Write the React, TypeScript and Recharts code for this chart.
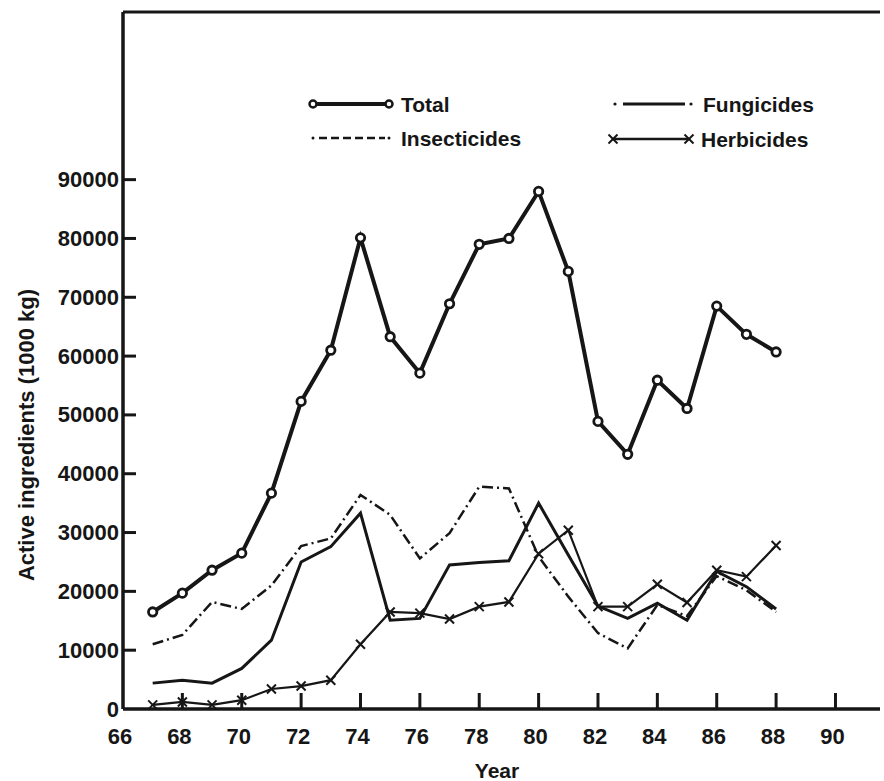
import { LineChart, Line, XAxis, YAxis, ReferenceLine } from "recharts"

const years = [67, 68, 69, 70, 71, 72, 73, 74, 75, 76, 77, 78, 79, 80, 81, 82, 83, 84, 85, 86, 87, 88]
const total = [16500, 19700, 23600, 26500, 36700, 52300, 61000, 80100, 63300, 57100, 68900, 79000, 80000, 88000, 74400, 48900, 43300, 55900, 51100, 68500, 63700, 60700]
const insecticides = [11000, 12600, 18200, 17000, 21000, 27700, 29000, 36400, 33000, 25600, 29900, 37800, 37500, 25900, 19100, 12900, 10300, 17700, 15800, 22600, 20200, 16500]
const fungicides = [4400, 4900, 4400, 6900, 11700, 25000, 27600, 33300, 15100, 15400, 24500, 24900, 25200, 35000, 26200, 17500, 15400, 18000, 15100, 23400, 20800, 17000]
const herbicides = [700, 1200, 700, 1500, 3400, 3900, 4900, 11000, 16500, 16300, 15300, 17400, 18200, 26400, 30400, 17400, 17400, 21200, 18100, 23600, 22500, 27800]

const xTicks = [66, 68, 70, 72, 74, 76, 78, 80, 82, 84, 86, 88, 90]
const yTicks = [0, 10000, 20000, 30000, 40000, 50000, 60000, 70000, 80000, 90000]

const data = years.map((year, i) => ({
  year,
  total: total[i],
  insecticides: insecticides[i],
  fungicides: fungicides[i],
  herbicides: herbicides[i],
}))

const INK = "#161616"
const FONT = "'Liberation Sans', Arial, sans-serif"

const CircleDot = (props: any) => {
  const { cx, cy } = props
  if (cx == null || cy == null) return null
  return <circle cx={cx} cy={cy} r={4.2} fill="#fff" stroke={INK} strokeWidth={2.8} />
}

const CrossDot = (props: any) => {
  const { cx, cy } = props
  if (cx == null || cy == null) return null
  const s = 4.5
  return (
    <g stroke={INK} strokeWidth={2}>
      <line x1={cx - s} y1={cy - s} x2={cx + s} y2={cy + s} />
      <line x1={cx - s} y1={cy + s} x2={cx + s} y2={cy - s} />
    </g>
  )
}

const XTick = (props: any) => {
  const { x, y, payload } = props
  return (
    <g>
      {payload.value !== 66 && <line x1={x} y1={y} x2={x} y2={y - 16} stroke={INK} strokeWidth={3} />}
      <text x={x - 3} y={y + 27} textAnchor="middle" dominantBaseline="central" fontFamily={FONT} fontWeight="bold" fontSize={22} fill={INK}>
        {payload.value}
      </text>
    </g>
  )
}

const YTick = (props: any) => {
  const { x, y, payload } = props
  return (
    <g>
      {payload.value !== 0 && <line x1={x} y1={y} x2={x + 13} y2={y} stroke={INK} strokeWidth={3} />}
      <text x={x - 4} y={y} textAnchor="end" dominantBaseline="central" fontFamily={FONT} fontWeight="bold" fontSize={22} fill={INK}>
        {payload.value}
      </text>
    </g>
  )
}

// legend entries: [label, line x, row y]
const legendItems = [
  { label: "Total", x: 313, y: 104, kind: "total" },
  { label: "Insecticides", x: 313, y: 138, kind: "insecticides" },
  { label: "Fungicides", x: 615, y: 104, kind: "fungicides" },
  { label: "Herbicides", x: 613, y: 139, kind: "herbicides" },
]

function LegendOverlay() {
  return (
    <svg width={884} height={781} style={{ position: "absolute", left: 0, top: 0, pointerEvents: "none" }}>
      {legendItems.map((it) => {
        const x2 = it.x + 76
        return (
          <g key={it.label}>
            {it.kind === "total" && (
              <g>
                <line x1={it.x} y1={it.y} x2={x2} y2={it.y} stroke={INK} strokeWidth={4} />
                <circle cx={it.x} cy={it.y} r={3.5} fill="#fff" stroke={INK} strokeWidth={2.5} />
                <circle cx={x2} cy={it.y} r={3.5} fill="#fff" stroke={INK} strokeWidth={2.5} />
              </g>
            )}
            {it.kind === "insecticides" && (
              <g>
                <line x1={it.x + 6} y1={it.y} x2={x2 - 4} y2={it.y} stroke={INK} strokeWidth={2.5} strokeDasharray="8 4" />
                <circle cx={it.x} cy={it.y} r={1.5} fill={INK} />
                <circle cx={x2} cy={it.y} r={1.5} fill={INK} />
              </g>
            )}
            {it.kind === "fungicides" && (
              <g>
                <line x1={it.x + 8} y1={it.y} x2={x2 - 6} y2={it.y} stroke={INK} strokeWidth={3} />
                <circle cx={it.x} cy={it.y} r={1.6} fill={INK} />
                <circle cx={x2} cy={it.y} r={1.6} fill={INK} />
              </g>
            )}
            {it.kind === "herbicides" && (
              <g>
                <line x1={it.x} y1={it.y} x2={x2} y2={it.y} stroke={INK} strokeWidth={2.5} />
                <CrossDot cx={it.x} cy={it.y} />
                <CrossDot cx={x2} cy={it.y} />
              </g>
            )}
            <text x={x2 + 12} y={it.y} dominantBaseline="central" fontFamily={FONT} fontWeight="bold" fontSize={21} fill={INK}>
              {it.label}
            </text>
          </g>
        )
      })}
      <text
        transform="translate(26, 435) rotate(-90)"
        textAnchor="middle"
        dominantBaseline="central"
        fontFamily={FONT}
        fontWeight="bold"
        fontSize={22}
        fill={INK}
      >
        Active ingredients (1000 kg)
      </text>
      <text x={497} y={770} textAnchor="middle" dominantBaseline="central" fontFamily={FONT} fontWeight="bold" fontSize={21} fill={INK}>
        Year
      </text>
    </svg>
  )
}

export default function App() {
  return (
    <div style={{ position: "absolute", left: 0, top: 0, width: 884, height: 781, background: "#fff" }}>
      <LineChart width={884} height={781} data={data} margin={{ top: 12, right: 4, bottom: 0, left: 0 }}>
        <XAxis
          dataKey="year"
          type="number"
          domain={[66, 91.5]}
          ticks={xTicks}
          interval={0}
          height={72}
          tickSize={0}
          tickMargin={0}
          tick={<XTick />}
          axisLine={{ stroke: INK, strokeWidth: 3.5 }}
        />
        <YAxis
          type="number"
          domain={[0, 118500]}
          ticks={yTicks}
          interval={0}
          width={123}
          tickSize={0}
          tickMargin={0}
          tick={<YTick />}
          axisLine={{ stroke: INK, strokeWidth: 3.5 }}
        />
        <ReferenceLine y={118500} stroke={INK} strokeWidth={3} />
        <Line dataKey="insecticides" stroke={INK} strokeWidth={2.5} strokeDasharray="11 4 2 4" dot={false} isAnimationActive={false} />
        <Line dataKey="fungicides" stroke={INK} strokeWidth={3} dot={false} isAnimationActive={false} />
        <Line dataKey="herbicides" stroke={INK} strokeWidth={2.2} dot={<CrossDot />} isAnimationActive={false} />
        <Line dataKey="total" stroke={INK} strokeWidth={4} dot={<CircleDot />} isAnimationActive={false} />
      </LineChart>
      <LegendOverlay />
    </div>
  )
}
